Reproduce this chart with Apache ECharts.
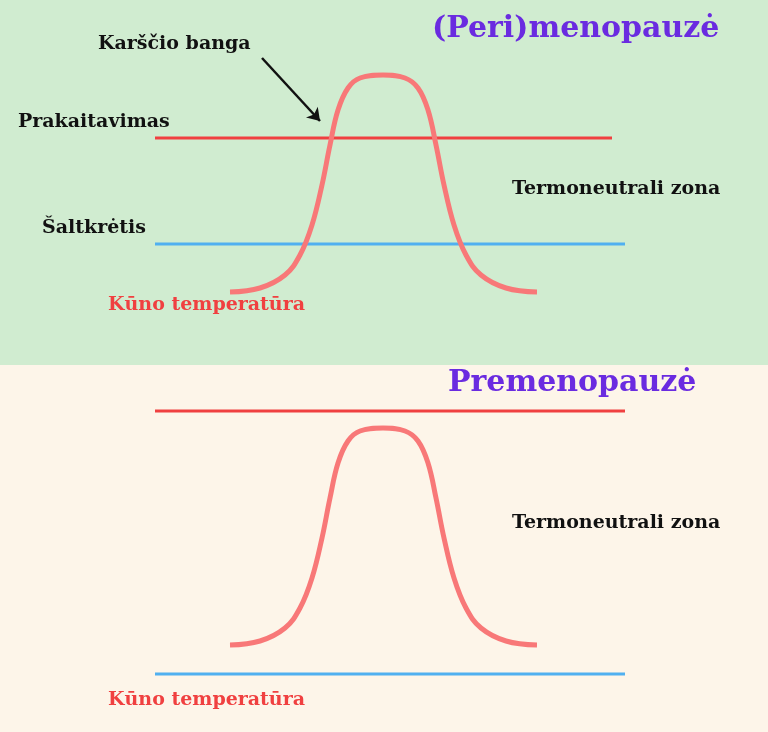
<!DOCTYPE html><html><head><meta charset="utf-8">
<script src="https://cdn.jsdelivr.net/npm/echarts@6/dist/echarts.min.js"></script>
<style>html,body{margin:0;padding:0}#c{width:768px;height:732px}</style></head><body><div id="c"></div>
<script>
// Bell curve shape: x positions and heights above baseline (estimated)
const curveX = [230,260,285,300,312,322,330,338,348,360,383,405,418,428,436,444,454,466,481,506,537];
const curveH = [0,4,17,37,67,107,147,182,204,214,217,214,204,182,147,107,67,37,17,4,0];
const topBaseline = 292, bottomBaseline = 645;
const sweatY = [138, 411], chillY = [244, 674];
const labels = {
  titleTop: "(Peri)menopauzė", titleBottom: "Premenopauzė",
  hot: "Karščio banga", sweat: "Prakaitavimas", chill: "Šaltkrėtis",
  body: "Kūno temperatūra", zone: "Termoneutrali zona"
};
const F = '"DejaVu Serif", serif';
const curve = (b) => curveX.map((x,i)=>[x, b - curveH[i]]);
const line = (y,x1,x2,c) => ({type:'line',data:[[x1,y],[x2,y]],symbol:'none',lineStyle:{color:c,width:3},silent:true});
const txt = (t,x,y,c,s) => ({type:'text',left:x,top:y,style:{text:t,fill:c,font:`bold ${s}px ${F}`}});
const ch = echarts.init(document.getElementById('c'));
ch.setOption({
  animation:false,
  grid:{left:0,right:0,top:0,bottom:0},
  xAxis:{type:'value',min:0,max:768,show:false},
  yAxis:{type:'value',min:0,max:732,inverse:true,show:false},
  graphic:[
    {type:'rect',z:-10,shape:{x:0,y:0,width:768,height:365},style:{fill:'#d0ecd0'}},
    {type:'rect',z:-10,shape:{x:0,y:365,width:768,height:367},style:{fill:'#fdf5e9'}},
    txt(labels.titleTop,432,14,'#6a2be0',30),
    txt(labels.hot,98,35,'#111',19),
    txt(labels.sweat,18,113,'#111',19),
    txt(labels.chill,42,219,'#111',19),
    txt(labels.zone,512,180,'#111',19),
    txt(labels.body,108,296,'#f04040',19),
    txt(labels.titleBottom,448,368,'#6a2be0',30),
    txt(labels.zone,512,514,'#111',19),
    txt(labels.body,108,691,'#f04040',19)
  ],
  series:[
    line(sweatY[0],155,612,'#f04040'),
    line(chillY[0],155,625,'#50b0f0'),
    line(sweatY[1],155,625,'#f04040'),
    line(chillY[1],155,625,'#50b0f0'),
    {type:'line',smooth:0.4,symbol:'none',data:curve(topBaseline),lineStyle:{color:'#f87878',width:5}},
    {type:'line',smooth:0.4,symbol:'none',data:curve(bottomBaseline),lineStyle:{color:'#f87878',width:5}},
    {type:'lines',coordinateSystem:'cartesian2d',symbol:['none','arrow'],symbolSize:12,
     lineStyle:{color:'#111',width:2.5,opacity:1},data:[{coords:[[262,58],[320,121]]}]}
  ]
});
</script></body></html>
